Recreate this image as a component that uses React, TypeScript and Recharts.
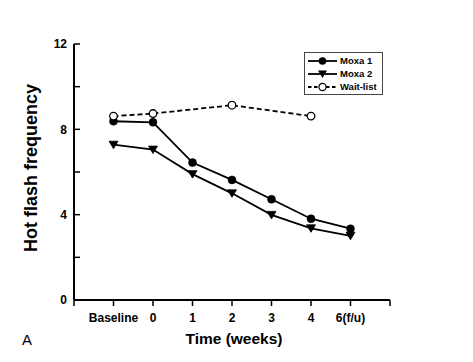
import React from "react";
import {
  LineChart,
  Line,
  XAxis,
  YAxis,
  Legend,
  Label,
} from "recharts";

const categories = ["Baseline", "0", "1", "2", "3", "4", "6(f/u)"];
const moxa1 = [8.38, 8.33, 6.44, 5.63, 4.72, 3.81, 3.34];
const moxa2 = [7.28, 7.05, 5.9, 5.0, 3.99, 3.36, 3.01];
const waitList = [8.62, 8.74, null, 9.13, null, 8.62, null];

const xTicks = [0, 1, 2, 3, 4, 5, 6, 7, 8];
const yTicks = [0, 2, 4, 6, 8, 10, 12];
const yLabelled = [0, 4, 8, 12];

const FONT = '"Liberation Sans", Arial, Helvetica, sans-serif';

const data = categories.map((c, i) => ({
  x: i + 1,
  moxa1: moxa1[i],
  moxa2: moxa2[i],
  waitList: waitList[i],
}));

function TriangleDot(props: any) {
  const { cx, cy, index } = props;
  if (cx == null || cy == null) return <g key={`t-${index}`} />;
  return (
    <path
      key={`t-${index}`}
      d={`M${cx - 4.5},${cy - 3.5} L${cx + 4.5},${cy - 3.5} L${cx},${cy + 4} Z`}
      fill="#000"
      stroke="#000"
      strokeWidth={0.8}
    />
  );
}

function LegendIcon({ kind }: { kind: string }) {
  return (
    <svg width={29} height={10} style={{ display: "block" }}>
      <line
        x1={0}
        y1={5}
        x2={29}
        y2={5}
        stroke="#000"
        strokeWidth={kind === "open" ? 1.8 : 1.8}
        strokeDasharray={kind === "open" ? "3.5 2.5" : undefined}
      />
      {kind === "dot" && <circle cx={14.5} cy={5} r={3.8} fill="#000" />}
      {kind === "tri" && (
        <path d="M10,1.5 L19,1.5 L14.5,9 Z" fill="#000" />
      )}
      {kind === "open" && (
        <circle cx={14.5} cy={5} r={3.6} fill="#fff" stroke="#000" strokeWidth={1.2} />
      )}
    </svg>
  );
}

const legendItems = [
  { name: "Moxa 1", kind: "dot" },
  { name: "Moxa 2", kind: "tri" },
  { name: "Wait-list", kind: "open" },
];

function LegendBox() {
  return (
    <div
      style={{
        width: 79,
        height: 43,
        boxSizing: "border-box",
        border: "1.5px solid #444",
        background: "#fff",
        padding: "1px 0 0 3px",
        fontFamily: FONT,
        fontWeight: "bold",
        fontSize: 9.5,
        color: "#000",
      }}
    >
      {legendItems.map((it) => (
        <div
          key={it.name}
          style={{ display: "flex", alignItems: "center", height: 13 }}
        >
          <LegendIcon kind={it.kind} />
          <span style={{ marginLeft: 3, lineHeight: "13px" }}>{it.name}</span>
        </div>
      ))}
    </div>
  );
}

export default function App() {
  return (
    <div
      style={{
        position: "absolute",
        left: 0,
        top: 0,
        width: 473,
        height: 362,
        background: "#fff",
      }}
    >
      <LineChart
        width={473}
        height={362}
        data={data}
        margin={{ top: 44, right: 83, bottom: 32, left: 34 }}
      >
        <XAxis
          type="number"
          dataKey="x"
          domain={[0, 8]}
          ticks={xTicks}
          interval={0}
          height={30}
          axisLine={{ stroke: "#000", strokeWidth: 2 }}
          tickLine={{ stroke: "#000", strokeWidth: 1.5 }}
          tickSize={6}
          tickMargin={7}
          tick={{ fill: "#000", fontSize: 12, fontWeight: "bold", fontFamily: FONT }}
          tickFormatter={(v: number) => categories[v - 1] ?? ""}
        >
          <Label
            content={() => (
              <g>
                <text
                  x={234}
                  y={344}
                  textAnchor="middle"
                  fontFamily={FONT}
                  fontWeight="bold"
                  fontSize={15.5}
                  fill="#000"
                >
                  Time (weeks)
                </text>
                <text x={22} y={345} fontFamily={FONT} fontSize={15} fill="#000">
                  A
                </text>
              </g>
            )}
          />
        </XAxis>
        <YAxis
          type="number"
          domain={[0, 12]}
          ticks={yTicks}
          interval={0}
          width={40}
          axisLine={{ stroke: "#000", strokeWidth: 2 }}
          tickLine={{ stroke: "#000", strokeWidth: 1.5 }}
          tickSize={-6}
          tickMargin={13}
          tick={{ fill: "#000", fontSize: 12, fontWeight: "bold", fontFamily: FONT }}
          tickFormatter={(v: number) => (yLabelled.includes(v) ? String(v) : "")}
        >
          <Label
            content={() => (
              <text
                x={37}
                y={168}
                transform="rotate(-90 37 168)"
                textAnchor="middle"
                fontFamily={FONT}
                fontWeight="bold"
                fontSize={18}
                fill="#000"
              >
                Hot flash frequency
              </text>
            )}
          />
        </YAxis>
        <Legend
          layout="horizontal"
          verticalAlign="middle"
          align="center"
          wrapperStyle={{ top: 52, left: 304, width: 79, height: 43 }}
          content={() => <LegendBox />}
        />
        <Line
          dataKey="moxa1"
          name="Moxa 1"
          stroke="#000"
          strokeWidth={1.8}
          dot={{ r: 4, fill: "#000", stroke: "#000", strokeWidth: 0.5 }}
          activeDot={false}
          isAnimationActive={false}
        />
        <Line
          dataKey="moxa2"
          name="Moxa 2"
          stroke="#000"
          strokeWidth={1.8}
          dot={TriangleDot}
          activeDot={false}
          isAnimationActive={false}
        />
        <Line
          dataKey="waitList"
          name="Wait-list"
          stroke="#000"
          strokeWidth={1.8}
          strokeDasharray="5 3"
          connectNulls
          dot={{ r: 3.8, fill: "#fff", stroke: "#000", strokeWidth: 1.3, strokeDasharray: "0" }}
          activeDot={false}
          isAnimationActive={false}
        />
      </LineChart>
    </div>
  );
}
